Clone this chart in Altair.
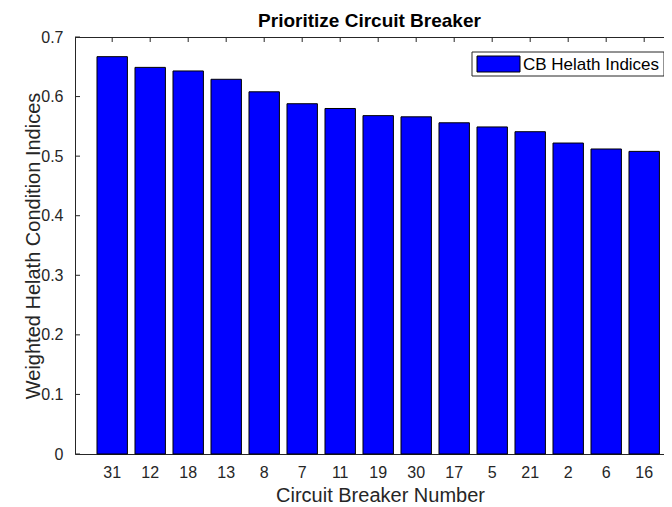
import altair as alt
import pandas as pd

# Data
cb_numbers = ["31", "12", "18", "13", "8", "7", "11", "19", "30", "17", "5", "21", "2", "6", "16"]
health_indices = [0.667, 0.649, 0.643, 0.629, 0.608, 0.588, 0.580, 0.568, 0.566, 0.556, 0.549, 0.541, 0.522, 0.512, 0.508]
y_ticks = [0, 0.1, 0.2, 0.3, 0.4, 0.5, 0.6, 0.7]
series_name = ["CB Helath Indices"]

df = pd.DataFrame({"cb": cb_numbers, "v": health_indices})
tick_df = pd.DataFrame({"v": y_ticks})
leg_df = pd.DataFrame({"s": series_name})

FONT = "Liberation Sans"
TXT = "#262626"
W, H = 589, 417

x_scale = alt.Scale(paddingInner=0.2, paddingOuter=0.35, align=0.827)
y_scale = alt.Scale(domain=[0, 0.7], nice=False, zero=True)

x_axis = alt.Axis(
    title="Circuit Breaker Number", labelAngle=0, ticks=False, domain=True,
    domainColor=TXT, labelFont=FONT, labelFontSize=16, labelColor=TXT,
    labelPadding=10, titleFont=FONT, titleFontSize=20, titleFontWeight="normal",
    titleColor=TXT, titleBaseline="middle", titleY=41, titleX=305,
)
y_axis = alt.Axis(
    title="Weighted Helath Condition Indices", values=y_ticks, format="~g",
    ticks=False, domain=True, domainColor=TXT, grid=False,
    labelFont=FONT, labelFontSize=16, labelColor=TXT, labelPadding=12,
    titleFont=FONT, titleFontSize=20, titleFontWeight="normal", titleColor=TXT,
    titleBaseline="middle", titleX=-42, titleAngle=270,
)

bars = alt.Chart(df).mark_bar(
    fill="#0000ff", stroke="black", strokeWidth=1, opacity=1
).encode(
    x=alt.X("cb:N", sort=cb_numbers, scale=x_scale, axis=x_axis),
    y=alt.Y("v:Q", scale=y_scale, axis=y_axis),
)

top_ticks = alt.Chart(df).mark_rule(color=TXT, strokeWidth=1).encode(
    x=alt.X("cb:N", sort=cb_numbers, scale=x_scale, axis=x_axis),
    y=alt.value(0),
    y2=alt.value(5),
)

left_ticks = alt.Chart(tick_df).mark_rule(color=TXT, strokeWidth=1).encode(
    y=alt.Y("v:Q", scale=y_scale, axis=y_axis),
    x=alt.value(0),
    x2=alt.value(5),
)

top_border = alt.Chart(leg_df).mark_rule(color=TXT, strokeWidth=1).encode(
    x=alt.value(0), x2=alt.value(W), y=alt.value(0.5)
)

# Legend (drawn as decoration inside the plot area)
leg_box = alt.Chart(leg_df).mark_rect(fill="white", stroke=TXT, strokeWidth=1).encode(
    x=alt.value(397), x2=alt.value(589), y=alt.value(15), y2=alt.value(39)
)
leg_swatch = alt.Chart(leg_df).mark_rect(fill="#0000ff", stroke="black", strokeWidth=1).encode(
    x=alt.value(402), x2=alt.value(445), y=alt.value(19), y2=alt.value(35)
)
leg_text = alt.Chart(leg_df).mark_text(
    align="left", baseline="middle", font=FONT, fontSize=17, color="#000000"
).encode(x=alt.value(448), y=alt.value(27.5), text="s:N")

chart = alt.layer(
    bars, top_ticks, left_ticks, top_border, leg_box, leg_swatch, leg_text
).properties(
    width=W,
    height=H,
    title=alt.TitleParams(
        "Prioritize Circuit Breaker", font=FONT, fontSize=19, fontWeight="bold",
        color="#000000", anchor="middle", offset=6, frame="group", dy=8,
    ),
    autosize=alt.AutoSizeParams(type="none"),
    padding={"left": 67, "top": 29, "right": 0, "bottom": 52},
).configure_view(
    stroke=None
).configure(background="white")

chart.save("out.html", embed_options={"renderer": "svg", "actions": False})
